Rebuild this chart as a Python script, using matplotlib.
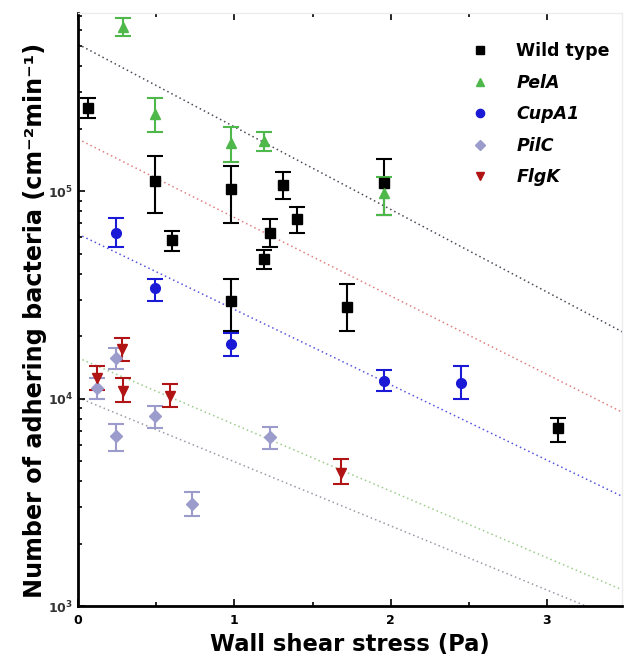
import numpy as np
import matplotlib
matplotlib.use("Agg")
import matplotlib.pyplot as plt
from matplotlib.ticker import MultipleLocator, LogLocator, NullFormatter, FixedLocator

plt.rcParams['font.family'] = ['DejaVu Sans']
plt.rcParams['font.weight'] = 'bold'
plt.rcParams['mathtext.fontset'] = 'custom'
plt.rcParams['mathtext.rm'] = 'DejaVu Sans:bold'
plt.rcParams['mathtext.it'] = 'DejaVu Sans:bold:italic'
plt.rcParams['mathtext.bf'] = 'DejaVu Sans:bold'

# Wild type
wt_x = [0.06, 0.49, 0.60, 0.98, 0.98, 1.19, 1.23, 1.31, 1.40, 1.72, 1.96, 3.07]
wt_y = [2.52e5, 1.12e5, 5.8e4, 1.02e5, 2.96e4, 4.7e4, 6.3e4, 1.07e5, 7.3e4, 2.76e4, 1.09e5, 7.2e3]
wt_hi = [2.80e5, 1.47e5, 6.4e4, 1.32e5, 3.78e4, 5.2e4, 7.3e4, 1.23e5, 8.4e4, 3.57e4, 1.43e5, 8.1e3]
wt_lo = [2.24e5, 7.8e4, 5.15e4, 7.0e4, 2.12e4, 4.2e4, 5.4e4, 9.2e4, 6.3e4, 2.12e4, 7.7e4, 6.2e3]

# PelA
pel_x = [0.29, 0.49, 0.98, 1.19, 1.96]
pel_y = [6.2e5, 2.35e5, 1.7e5, 1.74e5, 9.8e4]
pel_hi = [6.8e5, 2.8e5, 2.03e5, 1.92e5, 1.17e5]
pel_lo = [5.6e5, 1.92e5, 1.38e5, 1.56e5, 7.7e4]

# CupA1
cup_x = [0.24, 0.49, 0.98, 1.96, 2.45]
cup_y = [6.3e4, 3.4e4, 1.83e4, 1.22e4, 1.19e4]
cup_hi = [7.4e4, 3.78e4, 2.06e4, 1.38e4, 1.43e4]
cup_lo = [5.4e4, 2.96e4, 1.61e4, 1.09e4, 9.9e3]

# PilC
pil_x = [0.12, 0.24, 0.24, 0.49, 0.73, 1.23]
pil_y = [1.13e4, 1.57e4, 6.6e3, 8.2e3, 3.1e3, 6.5e3]
pil_hi = [1.26e4, 1.76e4, 7.5e3, 9.2e3, 3.53e3, 7.3e3]
pil_lo = [1.0e4, 1.39e4, 5.6e3, 7.2e3, 2.71e3, 5.7e3]

# FlgK
flg_x = [0.12, 0.28, 0.29, 0.59, 1.68]
flg_y = [1.26e4, 1.74e4, 1.09e4, 1.03e4, 4.4e3]
flg_hi = [1.43e4, 1.96e4, 1.25e4, 1.17e4, 5.1e3]
flg_lo = [1.1e4, 1.51e4, 9.6e3, 9.1e3, 3.87e3]

# Exponential fits: N = N0 * 10^(-b * tau)
fit_n0 = [5.1e5, 1.78e5, 6.2e4, 1.57e4, 1.01e4]
fit_b = [0.398, 0.378, 0.363, 0.321, 0.309]
fit_colors = ['#4a4a58', '#e08080', '#5555e0', '#9ccc8c', '#9a9aa8']

fig = plt.figure(figsize=(6.25, 6.58), dpi=100)
ax = fig.add_axes([0.125, 0.079, 0.87, 0.901])

tau = np.linspace(0, 3.6, 200)
for n0, b, c in zip(fit_n0, fit_b, fit_colors):
    ax.plot(tau, n0 * 10 ** (-b * tau), linestyle=(0, (1, 2)), color=c, lw=1.1, zorder=1)

series = [
    ("Wild type", wt_x, wt_y, wt_lo, wt_hi, 's', 'black', 6.5),
    ("PelA", pel_x, pel_y, pel_lo, pel_hi, '^', '#4fb84a', 7),
    ("CupA1", cup_x, cup_y, cup_lo, cup_hi, 'o', '#1a1ad6', 7),
    ("PilC", pil_x, pil_y, pil_lo, pil_hi, 'D', '#9c9ccc', 6),
    ("FlgK", flg_x, flg_y, flg_lo, flg_hi, 'v', '#b01414', 7),
]
handles = []
for name, xs, ys, lo, hi, mk, col, ms in series:
    ys = np.array(ys)
    yerr = [ys - np.array(lo), np.array(hi) - ys]
    ax.errorbar(xs, ys, yerr=yerr, fmt='none', ecolor=col, elinewidth=1.5,
                capsize=6, capthick=1.5, zorder=3)
    h, = ax.plot(xs, ys, linestyle='none', marker=mk, color=col, ms=ms, zorder=4)
    handles.append(h)

ax.set_yscale('log')
ax.set_xlim(0, 3.48)
ax.set_ylim(1e3, 7.2e5)

ax.xaxis.set_major_locator(FixedLocator([0, 1, 2, 3]))
ax.xaxis.set_minor_locator(MultipleLocator(0.5))
ax.yaxis.set_major_locator(FixedLocator([1e3, 1e4, 1e5]))
ax.yaxis.set_minor_locator(LogLocator(base=10, subs=np.arange(2, 10)))
ax.yaxis.set_minor_formatter(NullFormatter())
ax.set_yticklabels([r'$\mathregular{10^{3}}$', r'$\mathregular{10^{4}}$', r'$\mathregular{10^{5}}$'])
ax.set_xticklabels(['0', '1', '2', '3'])

ax.tick_params(which='both', direction='in', top=True, right=False, labelsize=9, width=1.2)
ax.tick_params(axis='y', labelcolor='#333333')
ax.tick_params(which='major', length=5)
ax.tick_params(which='minor', length=3)
ax.tick_params(axis='x', pad=6)

for s in ['left', 'bottom']:
    ax.spines[s].set_linewidth(2)
for s in ['top', 'right']:
    ax.spines[s].set_color('#ececec')
    ax.spines[s].set_linewidth(1)

ax.set_xlabel('Wall shear stress (Pa)', fontsize=16.3, fontweight='bold', labelpad=4)
ax.set_ylabel('Number of adhering bacteria (cm\u207b\u00b2min\u207b\u00b9)',
              fontsize=17.2, fontweight='bold')
ax.yaxis.set_label_coords(-0.058, 0.482)

leg = ax.legend(handles, [s[0] for s in series], loc='upper left',
                bbox_to_anchor=(0.723, 0.951), borderaxespad=0, borderpad=0,
                frameon=False, fontsize=12.5, handlelength=1.0, handletextpad=1.6,
                labelspacing=0.78, markerscale=0.85)
for i, t in enumerate(leg.get_texts()):
    t.set_fontweight('bold')
    if i > 0:
        t.set_fontstyle('italic')

fig.savefig('out.png', dpi=100)
